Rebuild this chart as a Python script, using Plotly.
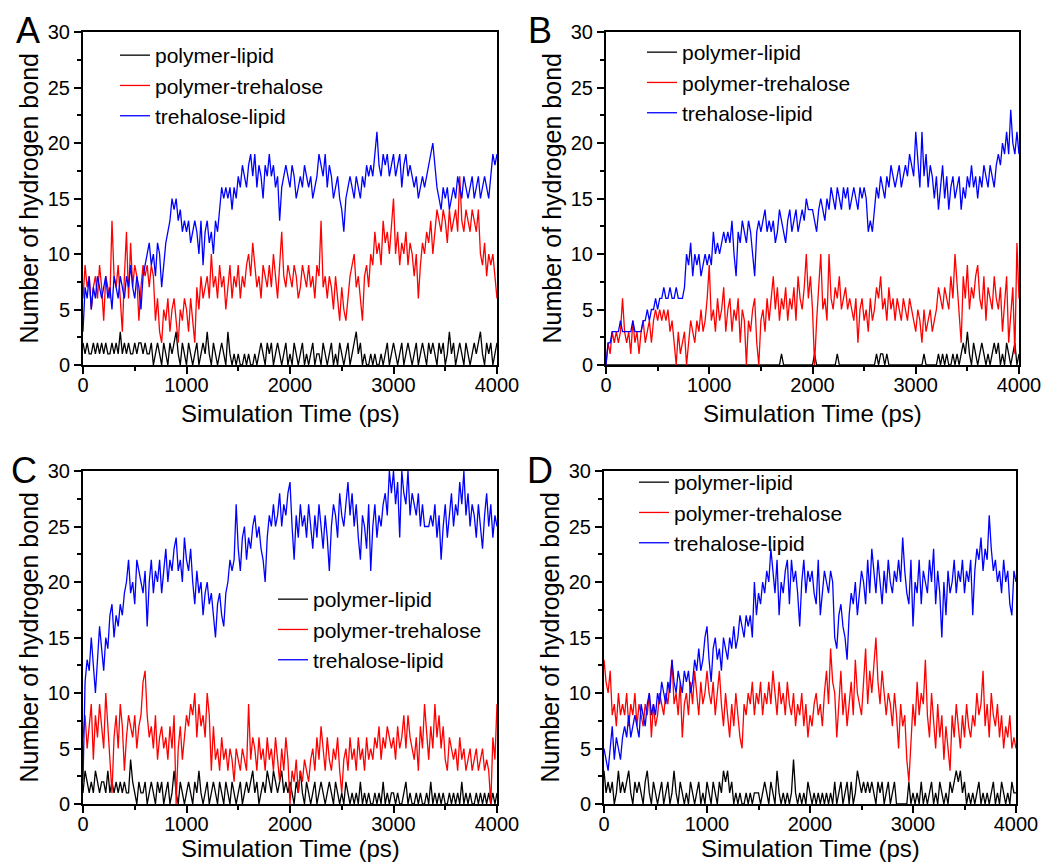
import plotly.graph_objects as go

STEP = 20
series_names = ["polymer-lipid", "polymer-trehalose", "trehalose-lipid"]
series_colors = ["#000000", "#FF0000", "#0000FF"]
x_ticks = [0, 1000, 2000, 3000, 4000]
y_ticks = [0, 5, 10, 15, 20, 25, 30]
panel_letters = ["A", "B", "C", "D"]

# ---------------- Panel A ----------------
A_polymer_lipid = [
    2, 1, 2, 1, 1, 2, 1, 2, 1, 2,
    1, 2, 1, 1, 2, 1, 2, 1, 3, 1,
    2, 1, 2, 1, 1, 2, 1, 2, 2, 1,
    2, 1, 1, 2, 0, 1, 2, 1, 0, 2,
    1, 0, 2, 1, 2, 3, 1, 0, 2, 1,
    0, 2, 1, 0, 1, 2, 0, 1, 2, 1,
    3, 1, 0, 2, 1, 0, 1, 2, 1, 0,
    3, 1, 0, 1, 0, 1, 0, 0, 1, 0,
    1, 0, 0, 1, 0, 1, 2, 1, 0, 2,
    1, 2, 0, 1, 2, 1, 0, 1, 2, 0,
    1, 0, 2, 1, 0, 1, 2, 0, 1, 0,
    1, 2, 0, 1, 1, 0, 2, 1, 0, 1,
    2, 0, 1, 0, 2, 1, 0, 1, 2, 0,
    1, 2, 3, 1, 2, 0, 1, 0, 0, 1,
    0, 1, 0, 0, 1, 0, 1, 2, 0, 1,
    2, 1, 0, 1, 2, 0, 1, 2, 1, 0,
    1, 2, 0, 1, 2, 1, 0, 2, 1, 2,
    1, 0, 2, 1, 2, 0, 1, 3, 1, 2,
    0, 1, 2, 1, 0, 2, 1, 0, 1, 2,
    1, 2, 3, 1, 0, 2, 1, 2, 0, 1,
    2]
A_polymer_trehalose = [
    6, 9, 7, 8, 5, 7, 8, 6, 9, 7,
    4, 8, 7, 6, 13, 8, 7, 9, 6, 3,
    8, 12, 6, 11, 7, 9, 8, 4, 7, 9,
    8, 9, 7, 9, 8, 4, 6, 3, 2, 5,
    4, 6, 3, 5, 6, 4, 2, 5, 4, 6,
    5, 3, 6, 4, 2, 7, 5, 8, 6, 7,
    8, 6, 10, 7, 8, 6, 9, 7, 8, 5,
    7, 9, 6, 8, 7, 9, 6, 8, 7, 9,
    10, 8, 11, 9, 7, 8, 6, 9, 8, 7,
    9, 7, 10, 8, 6, 9, 12, 8, 7, 9,
    8, 7, 9, 8, 6, 7, 9, 8, 7, 9,
    7, 8, 6, 9, 8, 13, 7, 8, 6, 8,
    7, 5, 8, 6, 4, 7, 5, 4, 6, 8,
    9, 10, 7, 8, 6, 4, 8, 9, 7, 10,
    9, 12, 10, 11, 9, 13, 11, 12, 10, 13,
    15, 10, 12, 9, 11, 10, 12, 9, 11, 10,
    8, 10, 6, 9, 11, 10, 12, 11, 13, 10,
    12, 14, 13, 12, 14, 13, 11, 14, 12, 13,
    14, 12, 17, 13, 12, 14, 13, 12, 14, 13,
    12, 14, 10, 9, 11, 8, 10, 9, 10, 8,
    6]
A_trehalose_lipid = [
    3, 7, 6, 8, 5, 7, 6, 8, 7, 6,
    7, 8, 6, 7, 5, 8, 7, 6, 8, 7,
    6, 8, 7, 9, 7, 6, 8, 7, 5, 8,
    9, 10, 11, 9, 10, 8, 11, 10, 7, 9,
    11, 12, 13, 15, 14, 15, 13, 14, 12, 13,
    12, 13, 11, 12, 13, 12, 10, 13, 9, 12,
    13, 11, 12, 10, 13, 12, 14, 16, 15, 16,
    15, 16, 14, 16, 15, 17, 16, 18, 17, 16,
    18, 19, 17, 19, 16, 18, 17, 15, 18, 17,
    19, 17, 18, 16, 17, 13, 16, 17, 18, 17,
    16, 18, 17, 15, 16, 17, 16, 18, 17, 16,
    17, 15, 16, 17, 19, 18, 17, 19, 16, 18,
    17, 15, 16, 17, 15, 14, 12, 15, 16, 17,
    16, 15, 17, 16, 15, 17, 16, 18, 17, 18,
    17, 19, 21, 18, 17, 19, 18, 19, 17, 18,
    19, 17, 18, 19, 16, 18, 19, 17, 18, 17,
    16, 17, 15, 16, 17, 16, 17, 18, 19, 20,
    18, 16, 15, 14, 16, 15, 16, 14, 15, 16,
    15, 17, 16, 15, 17, 16, 15, 16, 17, 15,
    16, 17, 15, 16, 17, 16, 15, 17, 19, 18,
    19]

# ---------------- Panel B ----------------
B_polymer_lipid = [
    0, 0, 0, 0, 0, 0, 0, 0, 0, 0,
    0, 0, 0, 0, 0, 0, 0, 0, 0, 0,
    0, 0, 0, 0, 0, 0, 0, 0, 0, 0,
    0, 0, 0, 0, 0, 0, 0, 0, 0, 0,
    0, 0, 0, 0, 0, 0, 0, 0, 0, 0,
    0, 0, 0, 0, 0, 0, 0, 0, 0, 0,
    0, 0, 0, 0, 0, 0, 0, 0, 0, 0,
    0, 0, 0, 0, 0, 0, 0, 0, 0, 0,
    0, 0, 0, 0, 0, 1, 0, 0, 0, 0,
    0, 0, 0, 0, 0, 0, 0, 0, 0, 0,
    0, 1, 0, 0, 0, 0, 0, 0, 0, 0,
    0, 0, 1, 0, 0, 0, 0, 0, 0, 0,
    0, 0, 0, 0, 0, 0, 0, 0, 0, 0,
    0, 1, 0, 1, 1, 0, 1, 0, 0, 0,
    0, 0, 0, 0, 0, 0, 0, 0, 0, 0,
    0, 0, 0, 0, 1, 0, 0, 0, 0, 0,
    0, 1, 0, 1, 0, 1, 0, 0, 1, 0,
    1, 0, 1, 2, 1, 3, 1, 0, 2, 1,
    0, 1, 2, 1, 0, 1, 0, 1, 2, 1,
    2, 0, 1, 0, 2, 1, 0, 1, 2, 0,
    1]
B_polymer_trehalose = [
    0, 2, 1, 3, 2, 3, 2, 3, 6, 3,
    2, 3, 1, 4, 2, 3, 1, 3, 4, 2,
    3, 4, 2, 4, 5, 4, 5, 4, 5, 4,
    5, 3, 4, 2, 0, 3, 1, 2, 3, 0,
    2, 4, 3, 2, 4, 3, 5, 3, 4, 6,
    9, 4, 5, 3, 6, 4, 5, 7, 3, 5,
    6, 3, 5, 4, 6, 2, 5, 4, 0, 4,
    3, 5, 6, 2, 0, 4, 5, 3, 6, 4,
    6, 8, 5, 7, 4, 6, 5, 7, 4, 6,
    5, 7, 4, 8, 6, 5, 7, 10, 6, 8,
    5, 0, 4, 7, 10, 5, 6, 4, 10, 6,
    5, 7, 6, 8, 5, 6, 7, 5, 6, 5,
    4, 6, 2, 5, 6, 4, 5, 3, 6, 4,
    5, 7, 6, 8, 5, 6, 4, 7, 5, 6,
    4, 6, 5, 4, 6, 5, 4, 6, 5, 4,
    3, 5, 4, 2, 5, 3, 4, 5, 3, 4,
    5, 7, 6, 5, 7, 6, 5, 8, 6, 10,
    7, 5, 2, 8, 6, 9, 5, 7, 6, 8,
    9, 6, 5, 8, 4, 7, 6, 5, 8, 6,
    5, 7, 3, 6, 8, 2, 5, 7, 1, 11,
    6]
B_trehalose_lipid = [
    0, 2, 2, 3, 3, 3, 3, 4, 3, 3,
    3, 3, 3, 4, 3, 3, 3, 3, 4, 4,
    5, 4, 5, 5, 6, 5, 6, 6, 7, 6,
    6, 7, 6, 6, 7, 6, 6, 6, 7, 10,
    9, 11, 8, 10, 9, 10, 8, 9, 10, 9,
    10, 9, 12, 10, 11, 10, 11, 12, 11, 12,
    11, 13, 10, 8, 12, 11, 13, 12, 11, 13,
    12, 10, 8, 12, 13, 12, 13, 14, 12, 13,
    12, 13, 11, 12, 14, 13, 12, 11, 13, 14,
    12, 13, 14, 12, 13, 14, 13, 15, 14, 14,
    14, 13, 12, 14, 15, 14, 13, 15, 14, 16,
    15, 14, 16, 15, 14, 16, 15, 16, 14, 15,
    16, 15, 14, 16, 15, 16, 15, 12, 13, 12,
    14, 16, 15, 17, 16, 15, 17, 16, 18, 17,
    16, 17, 18, 16, 17, 18, 17, 19, 18, 17,
    21, 18, 16, 21, 17, 19, 16, 18, 17, 15,
    17, 14, 16, 18, 15, 17, 14, 16, 17, 15,
    16, 17, 14, 16, 15, 17, 16, 18, 16, 17,
    15, 17, 16, 18, 17, 16, 18, 17, 16, 18,
    19, 18, 20, 19, 21, 19, 23, 20, 19, 21,
    19]

# ---------------- Panel C ----------------
C_polymer_lipid = [
    1, 3, 2, 1, 2, 1, 3, 2, 1, 2,
    2, 1, 3, 1, 2, 1, 2, 1, 2, 1,
    2, 1, 1, 4, 2, 1, 0, 2, 1, 1,
    2, 0, 1, 2, 1, 0, 2, 1, 2, 0,
    1, 2, 0, 1, 3, 1, 0, 2, 1, 0,
    1, 2, 1, 0, 2, 1, 3, 1, 0, 1,
    2, 0, 1, 2, 1, 0, 2, 1, 0, 2,
    1, 0, 2, 1, 0, 1, 2, 0, 1, 2,
    1, 2, 3, 1, 2, 0, 1, 2, 1, 3,
    2, 1, 3, 2, 1, 2, 3, 1, 2, 1,
    2, 1, 0, 2, 1, 3, 1, 0, 2, 1,
    0, 1, 2, 0, 1, 2, 1, 0, 1, 2,
    1, 0, 2, 1, 0, 1, 0, 2, 1, 0,
    1, 0, 1, 0, 2, 0, 1, 0, 1, 0,
    0, 1, 0, 1, 0, 2, 0, 1, 0, 1,
    1, 0, 1, 0, 0, 1, 2, 0, 1, 0,
    0, 1, 0, 1, 0, 0, 1, 0, 2, 0,
    1, 0, 1, 0, 1, 0, 0, 1, 0, 1,
    0, 1, 0, 2, 0, 1, 0, 1, 0, 0,
    1, 0, 1, 0, 1, 0, 1, 0, 1, 0,
    1]
C_polymer_trehalose = [
    6, 8, 5, 7, 9, 4, 8, 6, 9, 7,
    5, 10, 7, 4, 1, 6, 8, 5, 9, 7,
    3, 6, 8, 7, 6, 8, 5, 7, 8, 11,
    12, 8, 6, 7, 5, 8, 4, 6, 7, 5,
    6, 4, 7, 5, 8, 0, 5, 7, 4, 6,
    8, 7, 9, 8, 10, 6, 9, 7, 8, 6,
    10, 8, 3, 7, 4, 5, 3, 6, 4, 5,
    3, 5, 4, 2, 5, 4, 3, 5, 4, 3,
    9, 4, 6, 5, 3, 6, 4, 5, 3, 6,
    4, 5, 3, 6, 4, 2, 5, 3, 6, 4,
    0, 3, 2, 4, 1, 3, 2, 4, 3, 2,
    4, 5, 3, 6, 4, 7, 5, 3, 6, 4,
    3, 5, 4, 6, 3, 1, 4, 5, 3, 6,
    4, 5, 3, 6, 4, 5, 3, 6, 4, 5,
    4, 6, 5, 7, 4, 6, 5, 7, 6, 5,
    6, 4, 7, 5, 6, 8, 5, 8, 6, 5,
    4, 6, 3, 7, 5, 9, 6, 4, 7, 5,
    9, 6, 8, 5, 7, 4, 3, 6, 5, 4,
    5, 3, 6, 4, 5, 3, 4, 5, 3, 4,
    5, 3, 4, 5, 3, 4, 3, 0, 6, 4,
    9]
C_trehalose_lipid = [
    2, 11, 13, 12, 15, 12, 10, 13, 16, 14,
    12, 15, 14, 17, 18, 15, 17, 16, 18, 17,
    19, 20, 22, 19, 20, 18, 22, 21, 20, 19,
    21, 16, 20, 22, 19, 21, 20, 22, 19, 21,
    23, 20, 22, 21, 23, 24, 21, 22, 20, 24,
    22, 21, 23, 20, 18, 21, 19, 20, 17, 19,
    20, 18, 19, 17, 15, 18, 19, 17, 16, 19,
    20, 22, 21, 22, 27, 23, 21, 24, 25, 22,
    24, 23, 25, 26, 24, 25, 23, 22, 20, 24,
    26, 25, 27, 25, 26, 28, 25, 27, 26, 28,
    29, 25, 22, 26, 24, 27, 25, 26, 24, 27,
    25, 23, 26, 24, 27, 25, 23, 26, 24, 21,
    25, 27, 26, 24, 28, 26, 25, 27, 29, 26,
    28, 25, 27, 24, 22, 26, 25, 23, 27, 21,
    25, 27, 24, 26, 25, 27, 28, 26, 30, 28,
    30, 27, 29, 24, 30, 28, 27, 30, 26, 28,
    27, 26, 28, 25, 27, 25, 25, 25, 26, 25,
    27, 24, 26, 22, 25, 27, 24, 26, 28, 25,
    27, 26, 29, 27, 30, 26, 28, 25, 27, 26,
    24, 27, 25, 23, 26, 28, 25, 27, 24, 26,
    25]

# ---------------- Panel D ----------------
D_polymer_lipid = [
    3, 1, 2, 1, 2, 0, 1, 3, 1, 2,
    1, 2, 3, 1, 0, 2, 1, 2, 1, 0,
    2, 3, 1, 0, 2, 1, 0, 1, 2, 0,
    1, 2, 0, 1, 3, 1, 0, 2, 1, 0,
    1, 0, 2, 1, 0, 1, 2, 0, 1, 0,
    2, 1, 0, 2, 1, 0, 2, 1, 3, 2,
    3, 1, 2, 0, 1, 0, 1, 0, 0, 1,
    0, 1, 0, 1, 1, 1, 0, 1, 2, 1,
    0, 2, 1, 0, 3, 1, 0, 1, 0, 1,
    0, 1, 4, 1, 0, 1, 0, 1, 0, 2,
    1, 0, 1, 0, 1, 0, 1, 0, 1, 0,
    1, 0, 2, 0, 1, 2, 0, 1, 2, 0,
    2, 0, 1, 3, 2, 1, 2, 1, 2, 1,
    2, 1, 0, 2, 1, 2, 0, 1, 2, 0,
    1, 2, 0, 0, 0, 0, 0, 0, 2, 0,
    1, 0, 1, 0, 2, 0, 1, 0, 1, 2,
    0, 1, 0, 2, 1, 0, 1, 0, 2, 1,
    2, 3, 2, 3, 1, 2, 0, 1, 0, 1,
    0, 1, 2, 0, 1, 0, 1, 0, 1, 2,
    0, 1, 0, 2, 1, 0, 1, 0, 2, 1,
    1]
D_polymer_trehalose = [
    13, 11, 10, 12, 8, 9, 7, 10, 8, 9,
    8, 10, 7, 9, 8, 10, 7, 9, 8, 7,
    9, 8, 10, 6, 9, 7, 8, 10, 9, 8,
    10, 9, 11, 13, 9, 10, 8, 11, 6, 9,
    10, 8, 11, 9, 12, 10, 8, 11, 9, 10,
    12, 10, 9, 11, 8, 10, 12, 9, 7, 10,
    8, 6, 9, 7, 10, 8, 6, 5, 9, 8,
    10, 9, 11, 8, 10, 9, 11, 8, 10, 9,
    11, 9, 12, 10, 8, 11, 9, 10, 8, 11,
    9, 8, 10, 7, 9, 8, 10, 7, 9, 6,
    8, 7, 9, 10, 8, 9, 7, 10, 12, 9,
    14, 11, 10, 6, 9, 12, 8, 10, 7, 9,
    11, 8, 13, 10, 9, 8, 11, 14, 9, 12,
    10, 13, 15, 11, 9, 12, 10, 8, 10, 9,
    7, 10, 8, 5, 9, 7, 8, 4, 2, 6,
    9, 7, 11, 8, 10, 9, 13, 8, 6, 10,
    7, 5, 9, 6, 8, 4, 7, 5, 3, 8,
    6, 9, 7, 5, 8, 6, 9, 7, 6, 8,
    7, 10, 8, 9, 12, 7, 9, 6, 10, 8,
    7, 9, 6, 8, 5, 7, 6, 8, 5, 6,
    5]
D_trehalose_lipid = [
    5, 4, 3, 5, 7, 4, 6, 5, 4, 6,
    7, 6, 8, 6, 7, 8, 7, 6, 9, 8,
    7, 9, 10, 8, 9, 8, 10, 9, 11, 10,
    9, 11, 10, 13, 11, 10, 12, 11, 10, 12,
    11, 12, 10, 11, 13, 12, 14, 12, 13, 15,
    16, 13, 11, 14, 15, 13, 14, 12, 15, 14,
    13, 15, 14, 16, 14, 15, 17, 16, 15, 17,
    16, 17, 15, 20, 17, 19, 18, 20, 19, 21,
    20, 23, 21, 19, 22, 17, 20, 19, 21, 22,
    18, 22, 20, 21, 19, 16, 20, 22, 19, 21,
    20, 21, 19, 18, 22, 17, 19, 21, 20, 19,
    21, 20, 15, 14, 17, 18, 16, 15, 13, 17,
    19, 18, 20, 17, 19, 21, 20, 18, 22, 19,
    23, 21, 19, 22, 20, 18, 21, 19, 22, 20,
    19, 21, 20, 22, 20, 24, 21, 19, 18, 22,
    16, 20, 19, 22, 18, 21, 20, 19, 22, 20,
    23, 18, 21, 19, 15, 20, 17, 21, 19, 20,
    22, 19, 21, 20, 22, 19, 21, 20, 22, 17,
    21, 23, 22, 24, 21, 23, 22, 26, 23, 21,
    22, 20, 21, 19, 22, 20, 21, 18, 17, 21,
    20]

panels = [
    [A_polymer_lipid, A_polymer_trehalose, A_trehalose_lipid],
    [B_polymer_lipid, B_polymer_trehalose, B_trehalose_lipid],
    [C_polymer_lipid, C_polymer_trehalose, C_trehalose_lipid],
    [D_polymer_lipid, D_polymer_trehalose, D_trehalose_lipid],
]

W, H = 1046, 863
FONT = "Liberation Sans, Arial, sans-serif"

# plot-area pixel boxes (left, right, top, bottom)
boxes = [(83, 497, 32, 365), (606, 1019, 32, 365),
         (83, 497, 471, 804), (604, 1016, 471, 804)]
# x-title centre offset below each plot box (px)
xtitle_off = [48, 48, 44, 44]
# legend top-left anchors in px
legend_pos = [(115, 35), (642, 32), (273, 579), (634, 462)]
letter_pos = [(28, 30), (540, 30), (24, 471), (540, 471)]

fig = go.Figure()
layout = dict(
    width=W, height=H, margin=dict(l=0, r=0, t=0, b=0, autoexpand=False),
    paper_bgcolor="white", plot_bgcolor="white",
    font=dict(family=FONT, color="black", size=20),
    annotations=[], showlegend=True,
)

for i, (vals3, box) in enumerate(zip(panels, boxes)):
    sfx = "" if i == 0 else str(i + 1)
    leg = "legend" + sfx
    for name, color, vals in zip(series_names, series_colors, vals3):
        fig.add_trace(go.Scatter(
            x=[STEP * k for k in range(len(vals))], y=vals,
            mode="lines", name=name,
            line=dict(color=color, width=1.3),
            xaxis="x" + sfx, yaxis="y" + sfx, legend=leg,
        ))
    l, r, t, b = box
    axis_common = dict(
        showline=True, linecolor="black", linewidth=2, mirror=True,
        ticks="outside", ticklen=7, tickwidth=2, tickcolor="black",
        showgrid=False, zeroline=False, automargin=False,
        tickfont=dict(family=FONT, size=20, color="black"),
    )
    layout["xaxis" + sfx] = dict(
        axis_common, domain=[l / W, r / W], anchor="y" + sfx,
        range=[0, 4000], tickvals=x_ticks, ticklabelstandoff=-6,
        minor=dict(ticks="outside", ticklen=4, tickwidth=2, dtick=500,
                   tickcolor="black"),
    )
    layout["yaxis" + sfx] = dict(
        axis_common, domain=[1 - b / H, 1 - t / H], anchor="x" + sfx,
        range=[0, 30], tickvals=y_ticks,
        minor=dict(ticks="outside", ticklen=4, tickwidth=2, dtick=2.5,
                   tickcolor="black"),
    )
    lx, ly = legend_pos[i]
    layout[leg] = dict(
        x=lx / W, y=1 - ly / H, xanchor="left", yanchor="top",
        bgcolor="rgba(0,0,0,0)", borderwidth=0,
        font=dict(family=FONT, size=21, color="black"),
        tracegroupgap=0, itemwidth=30,
    )
    # axis titles
    layout["annotations"].append(dict(
        text="Number of hydrogen bond", textangle=-90,
        x=(l - 55) / W, y=1 - (t + b) / 2 / H, xref="paper", yref="paper",
        xanchor="center", yanchor="middle", showarrow=False,
        font=dict(family=FONT, size=25, color="black"),
    ))
    layout["annotations"].append(dict(
        text="Simulation Time (ps)",
        x=(l + r) / 2 / W, y=1 - (b + xtitle_off[i]) / H,
        xref="paper", yref="paper",
        xanchor="center", yanchor="middle", showarrow=False,
        font=dict(family=FONT, size=24, color="black"),
    ))
    px_, py_ = letter_pos[i]
    layout["annotations"].append(dict(
        text=panel_letters[i],
        x=px_ / W, y=1 - py_ / H, xref="paper", yref="paper",
        xanchor="center", yanchor="middle", showarrow=False,
        font=dict(family=FONT, size=36, color="black"),
    ))

fig.update_layout(**layout)
fig.write_html(
    "out.html",
    config={"displayModeBar": False},
    post_script="document.body.style.margin='0px'; document.body.style.overflow='hidden';",
)
